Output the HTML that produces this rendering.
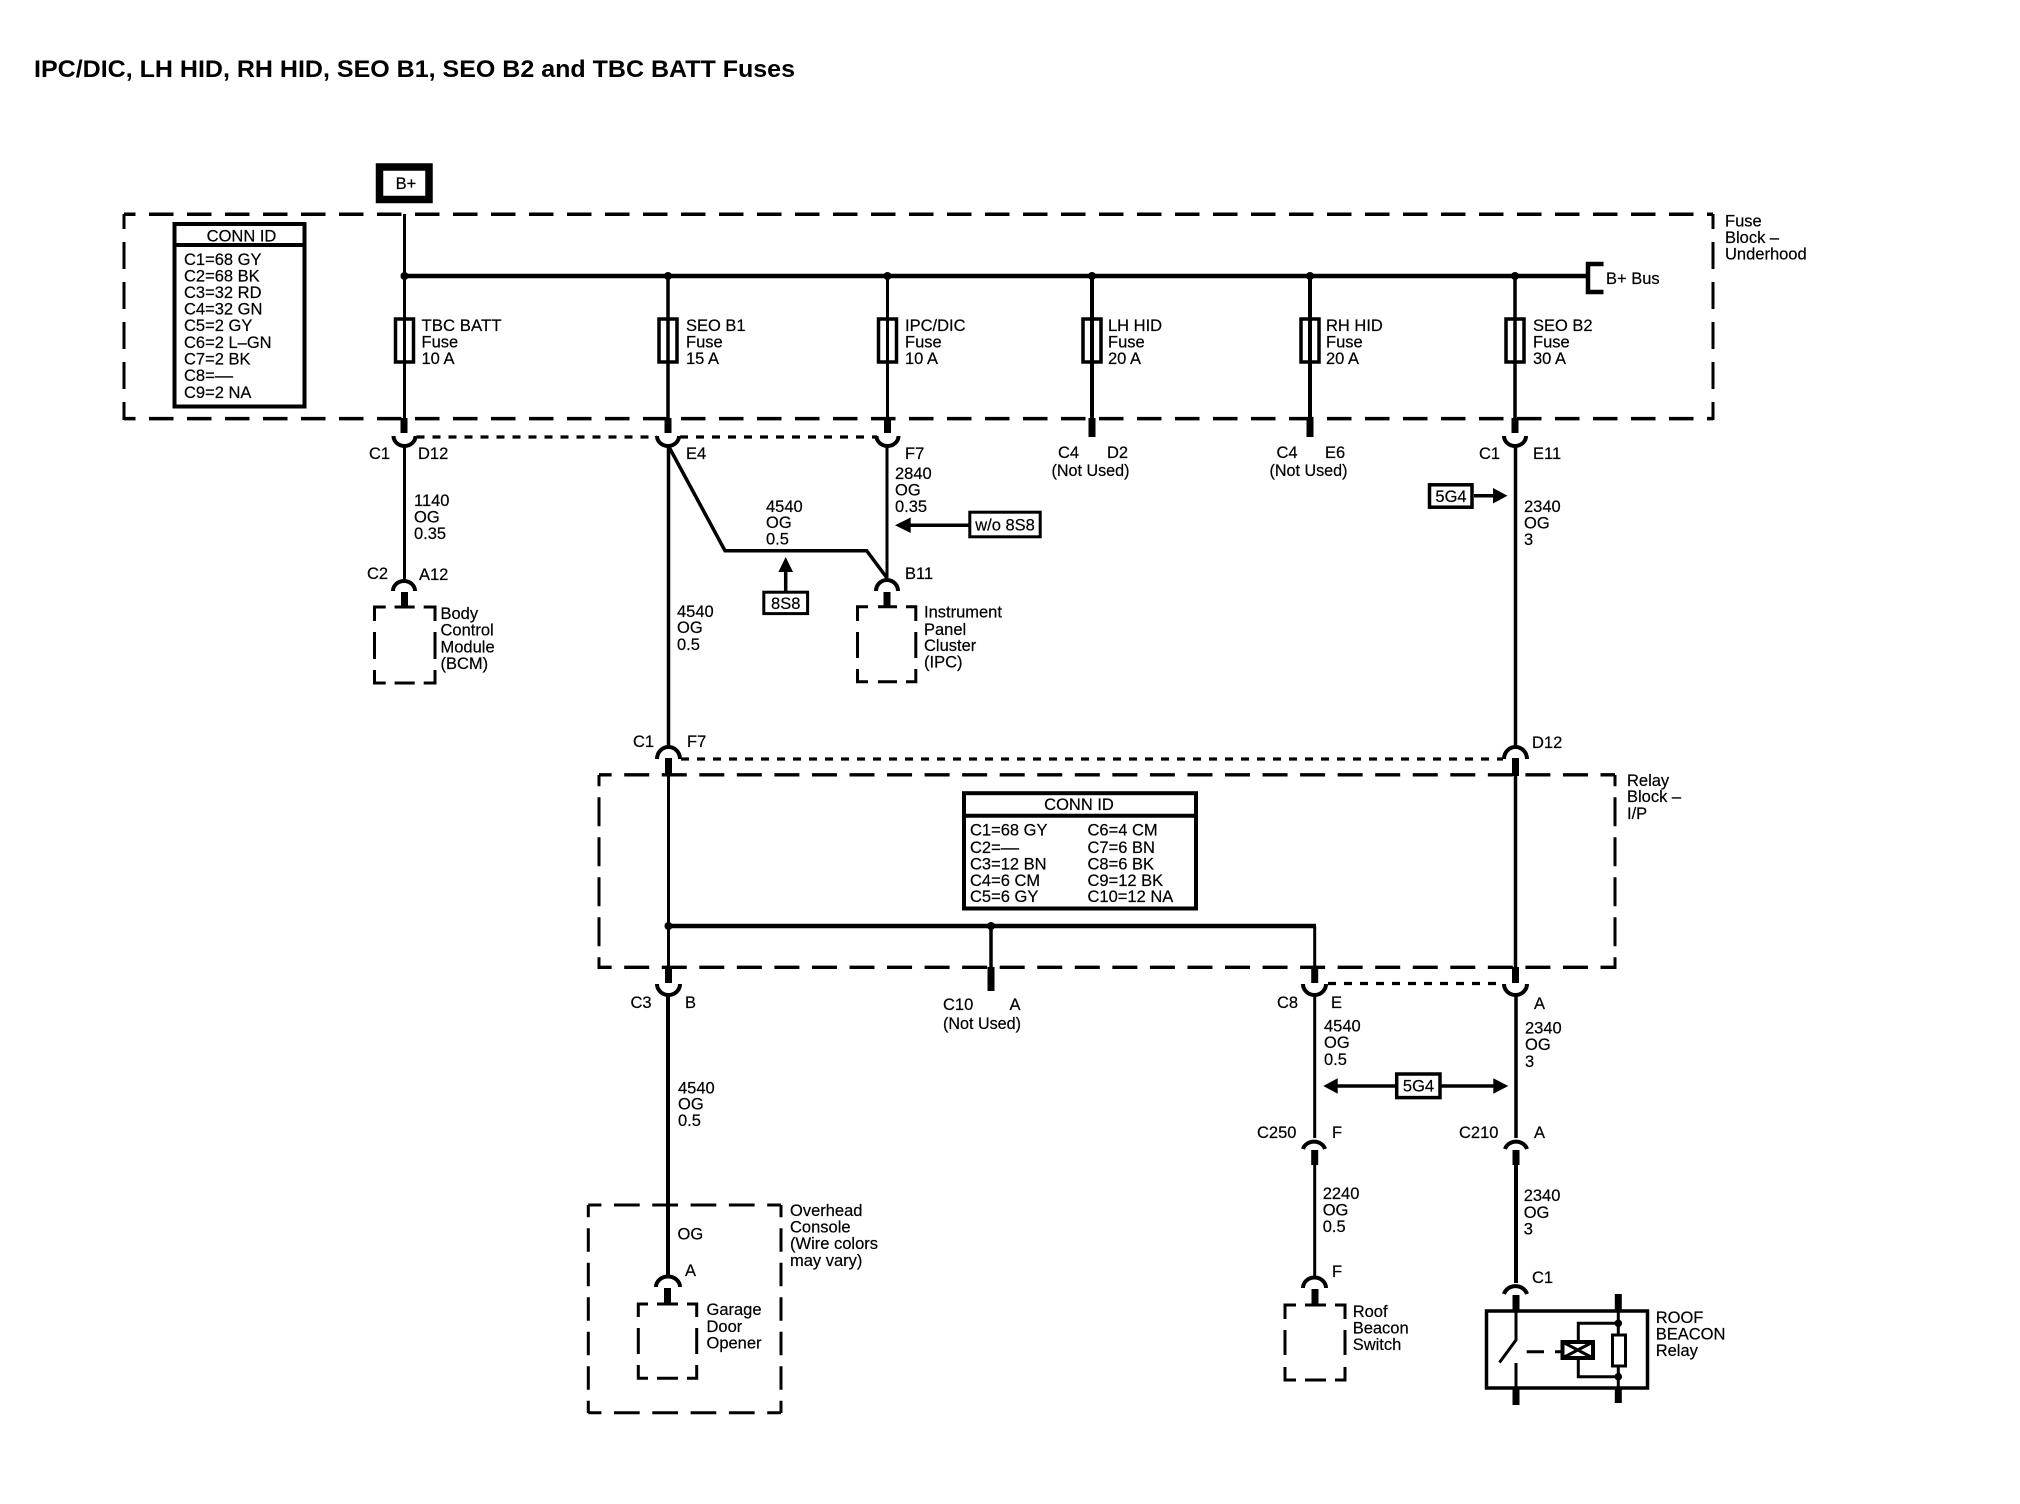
<!DOCTYPE html>
<html><head><meta charset="utf-8"><title>IPC/DIC Fuses</title>
<style>
html,body{margin:0;padding:0;background:#fff}
svg{display:block}
text{font-family:"Liberation Sans",sans-serif;font-size:16.5px;fill:#000;stroke:#000;stroke-width:.2}
.t{font-weight:bold;font-size:24.5px;stroke:none}
.m{text-anchor:middle}
path,line,rect{fill:none;stroke:#000}
.f{fill:#000;stroke:none}
.w3{stroke-width:3}.w35{stroke-width:3.5}.w4{stroke-width:4}.w5{stroke-width:4.5}.s{stroke-width:7}
.d{stroke-width:3.5;stroke-dasharray:24.5 13.5}
.dr{stroke-width:3.4;stroke-dasharray:25 12.55}
.dv{stroke-width:3;stroke-dasharray:27 13}
.dot{stroke-width:3.2;stroke-dasharray:8 8}
</style></head><body>
<svg xmlns="http://www.w3.org/2000/svg" width="2020" height="1504" viewBox="0 0 2020 1504">
<rect x="0" y="0" width="2020" height="1504" style="fill:#fff;stroke:none"/>
<text class="t" x="34" y="77" textLength="761" lengthAdjust="spacingAndGlyphs">IPC/DIC, LH HID, RH HID, SEO B1, SEO B2 and TBC BATT Fuses</text>

<!-- B+ -->
<rect x="379.5" y="167" width="49.5" height="32.5" style="stroke-width:7.5"/>
<text class="m" x="406" y="189">B+</text>

<!-- Fuse block -->
<path class="d" d="M124,214.3H1713" stroke-dashoffset="13"/>
<path class="d" d="M124,418.6H1713" stroke-dashoffset="13"/>
<path class="dv" d="M124,214V420" stroke-dashoffset="12"/>
<path class="dv" d="M1713,214V420" stroke-dashoffset="12"/>
<text x="1725" y="226.5">Fuse</text><text x="1725" y="243">Block –</text><text x="1725" y="259.5">Underhood</text>

<!-- Conn ID 1 -->
<rect x="174.5" y="224" width="130" height="182.5" class="w4"/>
<path class="w4" d="M174,245H305"/>
<text class="m" x="241.5" y="241.5">CONN ID</text>
<text x="184" y="265">C1=68 GY</text><text x="184" y="281.5">C2=68 BK</text><text x="184" y="298">C3=32 RD</text>
<text x="184" y="314.5">C4=32 GN</text><text x="184" y="331">C5=2 GY</text><text x="184" y="348">C6=2 L–GN</text>
<text x="184" y="364.5">C7=2 BK</text><text x="184" y="381">C8=––</text><text x="184" y="398">C9=2 NA</text>

<!-- Bus -->
<path class="w5" d="M404.5,276H1586"/>
<path class="w5" d="M1603.5,264H1588V292H1603.5"/>
<text x="1606" y="284">B+ Bus</text>
<circle class="f" cx="404.5" cy="276" r="4"/><circle class="f" cx="668" cy="276" r="4"/><circle class="f" cx="887.5" cy="276" r="4"/>
<circle class="f" cx="1092" cy="276" r="4"/><circle class="f" cx="1310" cy="276" r="4"/><circle class="f" cx="1515" cy="276" r="4"/>

<!-- Fuse verticals -->
<path class="w3" d="M404.5,214V420"/>
<path class="w35" d="M668,276V420"/><path class="w3" d="M887.5,276V420"/>
<path class="w4" d="M1092,276V420"/><path class="w4" d="M1310,276V420"/><path class="w35" d="M1515,276V420"/>
<g style="stroke-width:3.5">
<rect x="395.5" y="319" width="18" height="43"/><rect x="659" y="319" width="18" height="43"/>
<rect x="878.5" y="319" width="18" height="43"/><rect x="1083" y="319" width="18" height="43"/>
<rect x="1301" y="319" width="18" height="43"/><rect x="1506" y="319" width="18" height="43"/>
</g>
<text x="421.5" y="331" textLength="80" lengthAdjust="spacingAndGlyphs">TBC BATT</text><text x="421.5" y="347.5">Fuse</text><text x="421.5" y="364">10 A</text>
<text x="686" y="331">SEO B1</text><text x="686" y="347.5">Fuse</text><text x="686" y="364">15 A</text>
<text x="905" y="331">IPC/DIC</text><text x="905" y="347.5">Fuse</text><text x="905" y="364">10 A</text>
<text x="1108" y="331">LH HID</text><text x="1108" y="347.5">Fuse</text><text x="1108" y="364">20 A</text>
<text x="1326" y="331">RH HID</text><text x="1326" y="347.5">Fuse</text><text x="1326" y="364">20 A</text>
<text x="1533" y="331">SEO B2</text><text x="1533" y="347.5">Fuse</text><text x="1533" y="364">30 A</text>

<!-- Stubs below fuse block -->
<path class="s" d="M404,418V433M668,418V433M887.5,418V433M1092,418V437M1310,418V437M1515,418V433"/>
<!-- U arcs -->
<path class="w4" d="M393.5,436A11,10 0 0 0 415.5,436M657,436A11,10 0 0 0 679,436M876.5,436A11,10 0 0 0 898.5,436M1504,436A11,10 0 0 0 1526,436"/>
<path class="dot" d="M416.5,437H657M680,437H877"/>

<text x="369" y="459">C1</text><text x="418" y="459">D12</text>
<text x="686" y="459">E4</text><text x="905" y="459">F7</text>
<text x="1058" y="458">C4</text><text x="1107" y="458">D2</text><text class="m" x="1090.5" y="476" textLength="78" lengthAdjust="spacingAndGlyphs">(Not Used)</text>
<text x="1276.5" y="458">C4</text><text x="1325" y="458">E6</text><text class="m" x="1308.5" y="476" textLength="78" lengthAdjust="spacingAndGlyphs">(Not Used)</text>
<text x="1479" y="459">C1</text><text x="1533" y="459">E11</text>

<!-- TBC to BCM -->
<path class="w3" d="M404.5,446V581"/>
<text x="414" y="506">1140</text><text x="414" y="522.5">OG</text><text x="414" y="539">0.35</text>
<text x="367" y="579">C2</text><text x="419" y="580">A12</text>
<path class="w4" d="M393,591A11,10 0 0 1 415,591"/>
<path class="s" d="M404.5,592V607"/>
<path class="w3" d="M374.5,621V607H385.7M394.6,607H414.7M423.7,607H435V621M374.5,632V659M435,632V659M374.5,670V683H385.7M394.6,683H414.7M423.7,683H435V670"/>
<text x="440.5" y="619">Body</text><text x="440.5" y="635.5">Control</text><text x="440.5" y="652.5">Module</text><text x="440.5" y="669">(BCM)</text>

<!-- SEO B1 -->
<path class="w35" d="M668.5,446V748"/>
<path class="w35" d="M668.5,446L725,550.7H866.7L887,578"/>
<text x="766" y="512">4540</text><text x="766" y="528">OG</text><text x="766" y="544.5">0.5</text>
<path class="w35" d="M785.7,570V592"/><path class="f" d="M785.7,557L793,572H778.4Z"/>
<rect x="763.8" y="592.2" width="43.8" height="21.4" class="w3"/>
<text class="m" x="785.7" y="609">8S8</text>
<text x="677" y="617">4540</text><text x="677" y="633">OG</text><text x="677" y="650">0.5</text>

<!-- IPC -->
<path class="w3" d="M887,446V578"/>
<text x="895" y="479">2840</text><text x="895" y="495.5">OG</text><text x="895" y="512">0.35</text>
<path class="w35" d="M908,525.2H969"/><path class="f" d="M895,525.2L910.7,517.5V533Z"/>
<rect x="969.8" y="512.2" width="70.4" height="24.6" class="w3"/>
<text class="m" x="1005" y="530.5">w/o 8S8</text>
<text x="905" y="579">B11</text>
<path class="w4" d="M876,591A11,11 0 0 1 898,591"/>
<path class="s" d="M887,592V607"/>
<path class="w3" d="M857.5,621V606.7H868M878,606.7H897M906,606.7H915.8V621M857.5,632V658M915.8,632V658M857.5,669V681.7H868M878,681.7H897M906,681.7H915.8V669"/>
<text x="924" y="617.5">Instrument</text><text x="924" y="635">Panel</text><text x="924" y="651">Cluster</text><text x="924" y="667.5">(IPC)</text>

<!-- SEO B2 wire -->
<path class="w35" d="M1515.5,446V748"/>
<rect x="1429.5" y="484.8" width="42.5" height="22.4" class="w35"/>
<text class="m" x="1451" y="502">5G4</text>
<path class="w35" d="M1474,495.7H1495"/><path class="f" d="M1507.5,495.7L1493,488V503.5Z"/>
<text x="1524" y="512">2340</text><text x="1524" y="528.5">OG</text><text x="1524" y="545">3</text>

<!-- Upper relay connectors -->
<text x="633" y="747">C1</text><text x="687" y="747">F7</text><text x="1532" y="748">D12</text>
<path class="w4" d="M657,759A11.5,12 0 0 1 680,759M1504,759A11.5,12 0 0 1 1527,759"/>
<path class="dot" d="M681,759H1503"/>
<path class="s" d="M668.5,758V776M1515.5,758V776"/>

<!-- Relay block -->
<path class="dr" d="M599,774.8H1615" stroke-dashoffset="12.35"/>
<path class="dr" d="M599,967.3H1615" stroke-dashoffset="12.35"/>
<path class="dv" style="stroke-dasharray:29 11" d="M599,775V969" stroke-dashoffset="17.7"/>
<path class="dv" style="stroke-dasharray:29 11" d="M1615,775V969" stroke-dashoffset="17.7"/>
<text x="1627" y="786">Relay</text><text x="1627" y="802">Block –</text><text x="1627" y="819">I/P</text>

<!-- Conn ID 2 -->
<rect x="964" y="793.2" width="232" height="115.3" class="w4"/>
<path class="w4" d="M964,815.7H1197"/>
<text class="m" x="1079" y="810">CONN ID</text>
<text x="970" y="835.5">C1=68 GY</text><text x="970" y="853">C2=––</text><text x="970" y="869.5">C3=12 BN</text><text x="970" y="886">C4=6 CM</text><text x="970" y="902">C5=6 GY</text>
<text x="1087.5" y="835.5">C6=4 CM</text><text x="1087.5" y="853">C7=6 BN</text><text x="1087.5" y="869.5">C8=6 BK</text><text x="1087.5" y="886">C9=12 BK</text><text x="1087.5" y="902">C10=12 NA</text>

<path class="w3" d="M668.5,776V968"/><path class="w35" d="M1515.5,776V968"/>
<path class="w5" d="M668.5,926H1316"/><path class="w3" d="M1314.7,926V968"/>
<path class="w35" d="M991,926V968"/><path class="s" d="M991,967V991"/>
<circle class="f" cx="668.5" cy="926" r="4"/><circle class="f" cx="991" cy="926" r="4"/>
<path class="s" d="M668.5,967V983M1314.7,967V983M1515.5,967V983"/>
<path class="w4" d="M657,984A11.5,11 0 0 0 680,984M1303,984A11.5,11 0 0 0 1326,984M1504,984A11.5,11 0 0 0 1527,984"/>
<path class="dot" d="M1328,983.5H1503"/>
<text x="630.5" y="1008">C3</text><text x="685" y="1008">B</text>
<text x="943" y="1010">C10</text><text x="1009.5" y="1010">A</text><text x="943" y="1029" textLength="78" lengthAdjust="spacingAndGlyphs">(Not Used)</text>
<text x="1277" y="1008">C8</text><text x="1331" y="1008">E</text><text x="1534" y="1009">A</text>

<!-- Lower left -->
<path class="w4" d="M668,995V1277"/>
<text x="678" y="1093.5">4540</text><text x="678" y="1109.5">OG</text><text x="678" y="1126">0.5</text>
<path class="w3" d="M588.3,1205H781M588.3,1412.7H781" style="stroke-dasharray:25.7 12.6" stroke-dashoffset="12.6"/>
<path class="w3" d="M588.3,1205V1413M781,1205V1413" style="stroke-dasharray:23.5 11" stroke-dashoffset="11.2"/>
<text x="790" y="1216">Overhead</text><text x="790" y="1232.5">Console</text><text x="790" y="1249">(Wire colors</text><text x="790" y="1266">may vary)</text>
<text x="677.5" y="1239.5">OG</text><text x="685" y="1276">A</text>
<path class="w4" d="M656,1287A12,10.5 0 0 1 680,1287"/>
<path class="s" d="M667.5,1288V1304"/>
<path class="w3" d="M638.3,1317V1304H648M657,1304H678M687,1304H696.7V1317M638.3,1328V1354M696.7,1328V1354M638.3,1365V1378.3H648M657,1378.3H678M687,1378.3H696.7V1365"/>
<text x="706.5" y="1315">Garage</text><text x="706.5" y="1332">Door</text><text x="706.5" y="1348.5">Opener</text>

<!-- C8 branch / right wires -->
<path class="w3" d="M1314.7,995V1138"/>
<path class="w35" d="M1516,995V1138"/>
<text x="1324" y="1031.5">4540</text><text x="1324" y="1048">OG</text><text x="1324" y="1065">0.5</text>
<text x="1525" y="1033.5">2340</text><text x="1525" y="1050">OG</text><text x="1525" y="1067">3</text>
<rect x="1396.7" y="1074" width="43.3" height="23.6" class="w35"/>
<text class="m" x="1418.5" y="1091.5">5G4</text>
<path class="w35" d="M1336,1086H1397M1440,1086H1494"/>
<path class="f" d="M1323.3,1086L1337.7,1078.3V1093.7ZM1508.3,1086L1493.3,1078.3V1093.7Z"/>
<text x="1257" y="1138">C250</text><text x="1332" y="1138">F</text>
<text x="1459" y="1138">C210</text><text x="1534" y="1138">A</text>
<path class="w4" d="M1303,1149A11.5,10.5 0 0 1 1325,1149M1505,1149A11.5,10.5 0 0 1 1527,1149"/>
<path class="s" d="M1314.7,1150V1165M1516,1150V1165"/>
<path class="w3" d="M1314.7,1164V1278"/><path class="w4" d="M1516,1164V1283"/>
<text x="1322.7" y="1199">2240</text><text x="1322.7" y="1215.5">OG</text><text x="1322.7" y="1232">0.5</text>
<text x="1523.7" y="1201">2340</text><text x="1523.7" y="1218">OG</text><text x="1523.7" y="1234.5">3</text>
<text x="1332" y="1277">F</text><text x="1532" y="1283">C1</text>
<path class="w4" d="M1303,1288A11.5,10.5 0 0 1 1326,1288M1504,1294A12,11 0 0 1 1527,1294"/>
<path class="s" d="M1315,1289V1305M1516,1295V1311"/>
<path class="w3" d="M1285,1319V1305H1296M1305,1305H1326M1335,1305H1345V1319M1285,1330V1355M1345,1330V1355M1285,1367V1380H1296M1305,1380H1326M1335,1380H1345V1367"/>
<text x="1352.7" y="1317">Roof</text><text x="1352.7" y="1333.5">Beacon</text><text x="1352.7" y="1350">Switch</text>

<!-- Relay -->
<rect x="1486.5" y="1311" width="161" height="77" style="stroke-width:3.5"/>
<path class="w3" d="M1516,1310V1340L1499.5,1362.5"/>
<path class="w3" d="M1516,1363V1388"/>
<path class="s" d="M1516,1388V1405M1618.3,1294V1311M1618.3,1388V1403"/>
<path class="w3" d="M1618.3,1311V1388M1618.3,1323.3H1578.3V1341M1578.3,1359V1376.7H1618.3"/>
<rect x="1612.5" y="1335" width="13" height="31" style="fill:#fff;stroke-width:3"/>
<circle class="f" cx="1618.3" cy="1323.3" r="3.8"/><circle class="f" cx="1618.3" cy="1376.7" r="3.8"/>
<path class="w3" d="M1526.7,1351.7H1544M1555,1351.7H1562"/>
<rect x="1562.5" y="1342" width="30.5" height="16" style="stroke-width:4"/>
<path class="w3" d="M1562.5,1342L1593,1358M1593,1342L1562.5,1358"/>
<text x="1655.7" y="1323">ROOF</text><text x="1655.7" y="1339.5">BEACON</text><text x="1655.7" y="1356">Relay</text>
</svg>
</body></html>
